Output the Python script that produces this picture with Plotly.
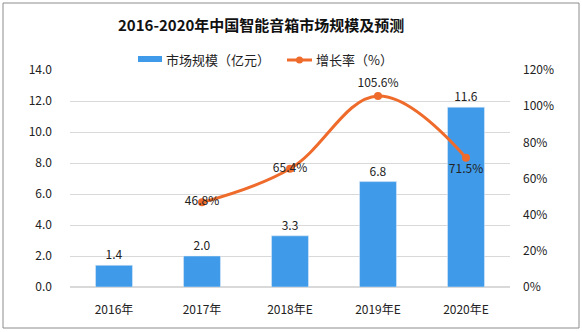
import plotly.graph_objects as go

categories = ["2016年", "2017年", "2018年E", "2019年E", "2020年E"]
market_size = [1.4, 2.0, 3.3, 6.8, 11.6]
growth_rate = [None, 0.468, 0.654, 1.056, 0.715]
growth_pos = ["middle center", "middle center", "middle center", "top center", "bottom center"]

BLUE = "#3f9be9"
ORANGE = "#ef6b2b"
FONT = "Noto Sans CJK SC"

fig = go.Figure()
fig.add_trace(go.Bar(
    x=categories, y=market_size, name="市场规模（亿元）",
    marker_color=BLUE, text=[f"{v:.1f}" for v in market_size],
    textposition="outside", textfont=dict(size=12, color="#222"),
    cliponaxis=False, showlegend=False,
))
fig.add_trace(go.Scatter(
    x=categories, y=growth_rate, name="增长率（%）", yaxis="y2",
    mode="lines+markers+text", line=dict(color=ORANGE, width=3, shape="spline", smoothing=1.1),
    marker=dict(size=8, color=ORANGE),
    text=[None if v is None else f"{v*100:.1f}%" for v in growth_rate],
    textposition=growth_pos, textfont=dict(size=12, color="#222"),
    cliponaxis=False, showlegend=False,
))

L, R, T, B = 70, 72, 70, 45
W, H = 582, 332
pw, ph = W - L - R, H - T - B

def px(x):
    return (x - L) / pw

def py(y):
    return (H - B - y) / ph

shapes = [
    dict(type="rect", xref="paper", yref="paper", x0=px(3), x1=px(579), y0=py(328), y1=py(3),
         line=dict(color="#8c8c8c", width=1), fillcolor="rgba(0,0,0,0)", layer="below"),
    dict(type="rect", xref="paper", yref="paper", x0=px(138), x1=px(162), y0=py(62), y1=py(56),
         line=dict(width=0), fillcolor=BLUE),
    dict(type="line", xref="paper", yref="paper", x0=px(287), x1=px(312), y0=py(60), y1=py(60),
         line=dict(color=ORANGE, width=3)),
    dict(type="circle", xref="paper", yref="paper", x0=px(296), x1=px(303), y0=py(63.5), y1=py(56.5),
         line=dict(width=0), fillcolor=ORANGE),
]

annotations = [
    dict(text="<b>2016-2020年中国智能音箱市场规模及预测</b>", xref="paper", yref="paper",
         x=px(261), y=py(25), xanchor="center", yanchor="middle", showarrow=False,
         font=dict(size=15, color="#111", family=FONT)),
    dict(text="市场规模（亿元）", xref="paper", yref="paper", x=px(164), y=py(60),
         xanchor="left", yanchor="middle", showarrow=False, font=dict(size=13, color="#222", family=FONT)),
    dict(text="增长率（%）", xref="paper", yref="paper", x=px(314), y=py(60),
         xanchor="left", yanchor="middle", showarrow=False, font=dict(size=13, color="#222", family=FONT)),
]

fig.update_layout(
    width=W, height=H, margin=dict(l=L, r=R, t=T, b=B),
    paper_bgcolor="white", plot_bgcolor="white",
    font=dict(family=FONT, size=12, color="#222"),
    bargap=0.58, showlegend=False,
    shapes=shapes, annotations=annotations,
    xaxis=dict(showline=False, ticks="", ticklabelstandoff=14, tickfont=dict(size=12)),
    yaxis=dict(range=[0, 14], dtick=2, tickformat=".1f", gridcolor="#d9d9d9", gridwidth=1,
               zeroline=True, zerolinecolor="#d9d9d9", ticks="", ticklabelstandoff=17,
               showline=False),
    yaxis2=dict(range=[0, 1.2], dtick=0.2, tickformat=".0%", overlaying="y", side="right",
                showgrid=False, zeroline=False, ticks="", ticklabelstandoff=12, showline=False),
)

fig.write_html("out.html")
